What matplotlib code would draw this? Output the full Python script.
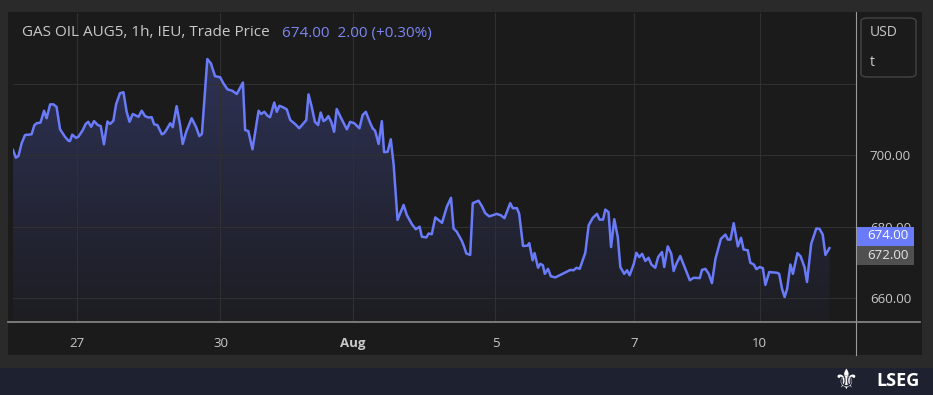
import numpy as np
import matplotlib.pyplot as plt
import matplotlib.transforms as mtransforms
from matplotlib.patches import Rectangle, FancyBboxPatch, Polygon
from matplotlib.colors import LinearSegmentedColormap

# hourly bars (trading-time index) and traded price
bars = [0, 0.9, 1.7, 2.7, 3.75, 5.8, 6.7, 7.4, 8.6, 9.7, 10.5, 11.6, 12.6, 13.6, 14.7,
        16.25, 17.3, 17.8, 18.5, 19.7, 20.4, 21.8, 22.7, 23.5, 24.4, 25.3, 26.5, 27.4,
        28.4, 29.5, 30.3, 31.35, 32.2, 33.4, 34.5, 35.5, 36.4, 37.4, 38.1, 39.2, 40.2,
        41.25, 42.3, 43.3, 44.1, 45.1, 46.5, 47.2, 48.0, 49.1, 49.9, 51.1, 52.2, 53.0,
        54.1, 55.8, 57.2, 58.2, 59.0, 60.7, 61.8, 63.1, 64.7, 65.7, 67.0, 68.5, 69.9,
        71.8, 72.5, 73.5, 74.8, 76.7, 77.5, 78.5, 79.6, 80.3, 81.6, 82.4, 83.2, 84.3,
        85.5, 86.6, 88.1, 89.4, 91.6, 92.3, 93.3, 94.3, 95.3, 96.1, 97.0, 97.8, 98.5,
        99.4, 100.3, 101.1, 102.4, 103.75, 104.3, 105.3, 106.6, 108.2, 109.2, 110.2,
        111.6, 112.4, 113.1, 114.2, 115.2, 115.9, 117.0, 118.0, 118.9, 120.1, 120.9,
        122.0, 123.0, 124.6, 125.8, 127.0, 127.7, 129.1, 129.8, 130.8, 131.9, 134.0,
        135.5, 136.8, 137.6, 138.6, 140.2, 140.9, 141.6, 142.8, 143.6, 145.4, 146.5,
        147.5, 148.75, 151.1, 152.4, 153.5, 155.3, 156.1, 157.4, 158.1, 159.3, 160.7,
        161.25, 162.3, 162.9, 164.0, 164.7, 165.5, 166.1, 167.1, 168.0, 169.4, 174.1,
        175.1, 176.0, 177.0, 178.75, 179.8, 181.1, 182.4, 183.2, 184.3, 185.0, 186.0,
        186.8, 187.8, 188.9, 189.7, 190.9, 191.8, 192.6, 193.9, 194.7, 195.6, 196.5,
        197.5, 198.5, 199.4, 200.6, 201.5, 202.7, 203.4, 204.5, 205.6, 206.35, 207.2,
        208.4, 209.5, 211.4, 212.6, 214.5, 215.2, 216.25, 217.3, 218.3, 219.4, 221.1,
        222.5, 223.3, 224.1, 225.1, 226.4, 227.4, 228.2, 229.5, 230.3, 231.4, 232.2,
        233.2, 234.2, 235.0, 236.2, 238.6, 239.3, 240.2, 241.0, 241.8, 242.8, 243.6,
        245.0, 246.0, 247.2, 248.0, 249.3, 250.9, 251.9, 252.9, 253.75, 255.0]
price = [701.5, 699.35, 699.8, 703.4, 705.7, 705.9, 708.5, 709.0, 709.2, 712.5, 710.4,
         714.3, 714.3, 713.6, 707.3, 705.2, 704.1, 704.0, 705.8, 704.9, 705.2, 707.1,
         708.8, 709.4, 708.0, 709.6, 708.5, 708.2, 703.1, 709.5, 708.8, 709.7, 714.3,
         717.4, 717.7, 712.2, 709.4, 711.6, 711.3, 710.8, 712.5, 711.0, 710.6, 710.7,
         708.7, 708.5, 705.9, 706.2, 707.3, 709.0, 707.9, 713.8, 708.5, 703.2, 706.6,
         710.4, 707.9, 705.4, 706.0, 727.0, 725.8, 722.2, 721.9, 720.2, 718.5, 718.1,
         717.2, 720.4, 707.1, 706.8, 701.7, 712.5, 711.6, 712.2, 711.0, 710.7, 714.8,
         712.2, 713.9, 713.5, 712.9, 709.9, 708.8, 707.6, 709.9, 717.1, 713.6, 709.4,
         708.5, 712.0, 709.6, 710.1, 711.0, 709.4, 706.6, 713.0, 710.6, 708.2, 707.3,
         709.4, 709.0, 707.6, 711.3, 712.2, 709.0, 707.5, 706.9, 703.2, 709.6, 700.9,
         701.0, 704.5, 697.3, 681.9, 683.7, 686.1, 683.3, 680.7, 679.3, 680.0, 677.2,
         677.0, 678.1, 677.9, 682.6, 681.1, 685.6, 688.1, 679.5, 678.6, 676.0, 674.4,
         672.5, 672.1, 686.6, 687.3, 685.7, 683.8, 682.9, 683.6, 683.2, 682.4, 686.6,
         685.2, 685.2, 683.6, 674.6, 674.7, 675.4, 670.6, 672.6, 668.5, 669.6, 669.2,
         666.8, 668.2, 666.1, 665.8, 667.9, 667.8, 668.5, 668.2, 672.7, 680.4, 682.5,
         683.6, 682.0, 682.0, 684.8, 684.1, 674.3, 682.1, 677.1, 668.7, 666.8, 667.8,
         666.4, 669.6, 672.7, 671.5, 672.4, 670.4, 671.3, 669.4, 668.5, 671.5, 672.9,
         668.7, 674.5, 672.4, 667.6, 669.6, 671.8, 669.3, 665.0, 665.7, 665.6, 667.9,
         668.2, 666.8, 664.2, 671.0, 676.6, 677.8, 676.4, 676.4, 681.0, 674.5, 676.9,
         673.6, 673.4, 669.9, 669.4, 668.1, 668.7, 668.4, 663.7, 667.3, 667.1, 666.8,
         662.6, 660.3, 662.6, 669.4, 666.8, 672.6, 671.7, 668.7, 664.5, 675.2, 679.5,
         679.4, 677.8, 672.1, 674.0]

tick_pos = [20.0, 64.8, 106.25, 150.7, 194.0, 233.2]
tick_lab = ["27", "30", "Aug", "5", "7", "10"]
y_ticks = [660, 680, 700, 720]
y_labels = ["660.00", "680.00", "700.00", ""]
last_price = 674.00
prev_close = 672.00

W, H = 933, 395
LINE = "#6a7bfa"
TXT = "#c9c9c9"
plt.rcParams['font.family'] = ['Open Sans', 'DejaVu Sans']

fig = plt.figure(figsize=(W / 100, H / 100), dpi=100, facecolor="#2a2a2a")

# panels
fig.patches.append(Rectangle((8 / W, 1 - 355 / H), 914 / W, 343 / H, transform=fig.transFigure,
                             facecolor="#1b1b1b", edgecolor="none", zorder=-10))
fig.patches.append(Rectangle((0, 0), 1, 27 / H, transform=fig.transFigure,
                             facecolor="#1e2230", edgecolor="none", zorder=-10))

ax = fig.add_axes([13 / W, 1 - 322 / H, 843 / W, 309 / H])
ax.set_facecolor("#1b1b1b")
ymin, ymax = 653.3, 739.9

# gradient fill under the line
grad = LinearSegmentedColormap.from_list("g", ["#1d1d22", "#2e3255"])
img = ax.imshow(np.linspace(0, 1, 256).reshape(-1, 1), cmap=grad, aspect="auto",
                extent=[bars[0], bars[-1], ymin, max(price)], origin="lower", zorder=1)
poly = Polygon(list(zip(bars, price)) + [(bars[-1], ymin), (bars[0], ymin)],
               closed=True, facecolor="none", edgecolor="none")
ax.add_patch(poly)
img.set_clip_path(poly)
ax.set_xlim(0, 263.3)
ax.set_ylim(ymin, ymax)

ax.plot(bars, price, color=LINE, lw=1.8, zorder=3, solid_joinstyle="round")

ax.set_xticks(tick_pos)
ax.set_xticklabels(tick_lab)
ax.set_yticks(y_ticks)
ax.set_yticklabels(y_labels)
ax.yaxis.tick_right()
ax.grid(True, color="#303030", lw=0.8)
ax.tick_params(axis="x", length=0, colors=TXT, labelsize=9.5, pad=11)
ax.tick_params(axis="y", length=0, colors=TXT, labelsize=9.5, pad=10)
for lab in ax.get_xticklabels():
    if lab.get_text() == "Aug":
        lab.set_fontweight("bold")
for s in ["top", "left", "right", "bottom"]:
    ax.spines[s].set_visible(False)

# right border of the plot, running through the time axis
fig.add_artist(plt.Line2D([856 / W, 856 / W], [1 - 355 / H, 1 - 12 / H], color="#9a9a9a", lw=0.8))
fig.add_artist(plt.Line2D([8 / W, 920 / W], [1 - 322 / H, 1 - 322 / H], color="#8a8a8a", lw=1.2))

# price labels on the scale: previous close at its level, last price stacked above it
trans = mtransforms.blended_transform_factory(ax.transAxes, ax.transData)
box_w = 58 / 843
box_h = 19.5 / 309 * (ymax - ymin)
for lvl, txt, fc, tc in [(prev_close, f"{prev_close:.2f}", "#505050", "#e6e6e6"),
                         (prev_close + box_h, f"{last_price:.2f}", LINE, "white")]:
    ax.add_patch(Rectangle((1, lvl - box_h / 2), box_w, box_h - 0.25, transform=trans,
                           facecolor=fc, edgecolor="none", clip_on=False, zorder=6))
    ax.text(1 + 32 / 843, lvl, txt, transform=trans, ha="center", va="center",
            color=tc, fontsize=9.5, zorder=7, clip_on=False)

# header
fig.text(22 / W, 1 - 33 / H, "GAS OIL AUG5, 1h, IEU, Trade Price", color=TXT, fontsize=11,
         va="center", ha="left")
fig.text(282 / W, 1 - 33 / H, f"{last_price:.2f}  {last_price - prev_close:.2f} (+0.30%)",
         color="#7c87f2", fontsize=11, va="center", ha="left")

# unit box
fig.patches.append(FancyBboxPatch((861 / W, 1 - 77 / H), 55 / W, 59 / H, transform=fig.transFigure,
                                  boxstyle="round,pad=0,rounding_size=0.008",
                                  facecolor="#1b1b1b", edgecolor="#444444", lw=1))
fig.text(870 / W, 1 - 33 / H, "USD", color=TXT, fontsize=10, va="center")
fig.text(870 / W, 1 - 63 / H, "t", color=TXT, fontsize=10, va="center")

# footer logo
fig.text(920 / W, 1 - 381 / H, "LSEG", color="white", fontsize=13, fontweight="bold",
         va="center", ha="right")
fig.text(846 / W, 1 - 381 / H, "⚜", color="white", fontsize=20, va="center", ha="center",
         family=["DejaVu Sans"])

fig.savefig("out.png", dpi=100, facecolor=fig.get_facecolor())
